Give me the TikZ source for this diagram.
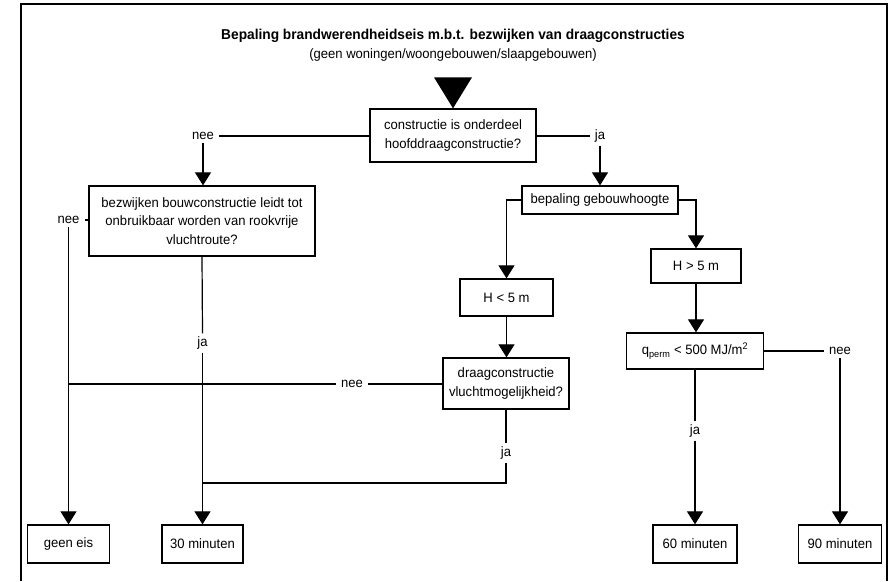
\documentclass[tikz,border=0pt]{standalone}
\usepackage{fontspec}
\setmainfont{Liberation Sans}[FakeStretch=0.96]
\usetikzlibrary{arrows.meta,positioning}
\begin{document}
\begin{tikzpicture}[x=1pt,y=-1pt,
  every node/.style={font=\fontsize{13.6}{18.3}\selectfont},
  box/.style={draw,line width=1.3pt,inner sep=0pt,align=center},
  lbl/.style={inner xsep=5pt,inner ysep=3pt},
  conn/.style={line width=1.2pt},
  arr/.style={conn,-{Triangle[width=16pt,length=13pt]}},
  frameline/.style={line width=1.2pt}]
\useasboundingbox (0,0) rectangle (891,581);
\draw[frameline] (21,581) -- (21,4) -- (887,4) -- (887,581);

\node[font=\fontsize{14.3}{17}\bfseries] (title) at (453,36) {Bepaling brandwerendheidseis m.b.t. bezwijken van draagconstructies};
\node (sub) at (453,55) {(geen woningen/woongebouwen/slaapgebouwen)};

\node[box,minimum width=166pt,minimum height=53pt] (q1) at (453,135.5) {constructie is onderdeel\\hoofddraagconstructie?};
\fill (q1.north) -- ++(-19,-31) -- ++(38,0) -- cycle;

\node[box,minimum width=226pt,minimum height=70pt] (bez) at (202,221) {bezwijken bouwconstructie leidt tot\\onbruikbaar worden van rookvrije\\vluchtroute?};
\node[box,minimum width=156pt,minimum height=28pt] (bep) at (600,200) {bepaling gebouwhoogte};
\node[box,minimum width=93pt,minimum height=37pt] (hl) at (506.5,297.5) {H < 5 m};
\node[box,minimum width=90pt,minimum height=34pt] (hg) at (696,266) {H > 5 m};
\node[box,minimum width=126pt,minimum height=51pt] (draag) at (506,383.5) {draagconstructie\\vluchtmogelijkheid?};
\node[box,minimum width=137pt,minimum height=36pt] (q) at (695,351) {q\textsubscript{perm} < 500 MJ/m\textsuperscript{2}};
\node[box,minimum width=82pt,minimum height=38pt] (geen) at (68.5,544) {geen eis};
\node[box,minimum width=81pt,minimum height=38pt] (m30) at (202.5,544) {30 minuten};
\node[box,minimum width=84pt,minimum height=38pt] (m60) at (695,544) {60 minuten};
\node[box,minimum width=83pt,minimum height=38pt] (m90) at (840,544) {90 minuten};

\node[lbl] (nee1) at (203,136) {nee};
\node[lbl] (ja1) at (600,136) {ja};
\node[lbl] (nee2) at (68.5,220) {nee};
\node[lbl] (ja2) at (202.5,343) {ja};
\node[lbl] (nee3) at (352,384) {nee};
\node[lbl] (ja3) at (506,453) {ja};
\node[lbl] (nee4) at (840,351) {nee};
\node[lbl] (ja4) at (695,431) {ja};
\coordinate (j30) at (202.5,483);

\draw[conn] (q1.west |- nee1) -- (nee1.east);
\draw[arr] (nee1.south) -- (nee1 |- bez.north);
\draw[conn] (q1.east |- ja1) -- (ja1.west);
\draw[arr] (ja1.south) -- (ja1 |- bep.north);

\draw[conn] (bez.west |- nee2) -- (nee2.east);
\draw[arr] (nee2.south) -- (nee2 |- geen.north);
\draw[conn] (bez.south) -- (ja2.north);
\draw[arr] (ja2.south) -- (ja2 |- m30.north);

\draw[arr] (bep.west) -| (hl.north);
\draw[arr] (bep.east) -| (hg.north);
\draw[arr] (hl.south) -- (hl.south |- draag.north);
\draw[conn] (draag.west |- nee3) -- (nee3.east);
\draw[conn] (nee3.west) -- (nee3 -| nee2);
\draw[conn] (draag.south) -- (ja3.north);
\draw[conn] (ja3.south) |- (j30);

\draw[arr] (hg.south) -- (hg.south |- q.north);
\draw[conn] (q.east) -- (nee4.west);
\draw[arr] (nee4.south) -- (nee4 |- m90.north);
\draw[conn] (q.south) -- (ja4.north);
\draw[arr] (ja4.south) -- (ja4 |- m60.north);
\end{tikzpicture}
\end{document}
